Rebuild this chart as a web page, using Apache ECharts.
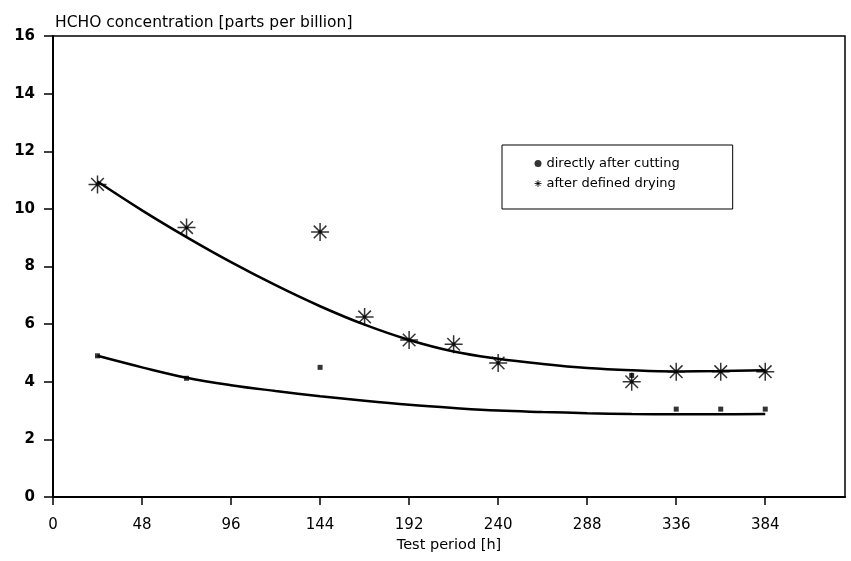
<!DOCTYPE html>
<html>
<head>
<meta charset="utf-8">
<script src="https://cdn.jsdelivr.net/npm/echarts@6/dist/echarts.min.js"></script>
<style>
  html, body { margin: 0; padding: 0; background: #fff; }
  #chart { width: 851px; height: 561px; }
</style>
</head>
<body>
<div id="chart"></div>
<script>
var cutX = [24, 72, 144, 312, 336, 360, 384];
var cutY = [4.9, 4.12, 4.5, 4.22, 3.05, 3.05, 3.05];
var dryX = [24, 72, 144, 168, 192, 216, 240, 312, 336, 360, 384];
var dryY = [10.85, 9.35, 9.2, 6.25, 5.45, 5.3, 4.65, 4.0, 4.35, 4.35, 4.35];

// fitted curves
var fitX = [24, 48, 72, 96, 120, 144, 168, 192, 216, 240, 264, 288, 312, 336, 360, 384];
var fitCutY = [4.9, 4.5, 4.14, 3.88, 3.68, 3.5, 3.34, 3.2, 3.09, 3.0, 2.95, 2.91, 2.88, 2.87, 2.87, 2.88];
var fitDryY = [10.95, 9.95, 9.02, 8.15, 7.35, 6.62, 5.98, 5.45, 5.05, 4.8, 4.62, 4.48, 4.4, 4.36, 4.37, 4.4];

var xTicks = [0, 48, 96, 144, 192, 240, 288, 336, 384];

function pairs(xs, ys) {
  var out = [];
  for (var i = 0; i < xs.length; i++) out.push([xs[i], ys[i]]);
  return out;
}

var starPath = 'path://M0 -10 L0 10 M-10 0 L10 0 M-7 -7 L7 7 M-7 7 L7 -7 M-1.6 -1.6 L1.6 -1.6 L1.6 1.6 L-1.6 1.6 Z';
var font = 'DejaVu Sans, Liberation Sans, sans-serif';

var chart = echarts.init(document.getElementById('chart'));
var option = {
  animation: false,
  backgroundColor: '#fff',
  textStyle: { fontFamily: font, color: '#000' },
  title: {
    text: 'HCHO concentration [parts per billion]',
    left: 50,
    top: 10,
    textStyle: { fontSize: 15.5, fontWeight: 'normal', color: '#000', fontFamily: font }
  },
  legend: {
    orient: 'vertical',
    left: 502,
    top: 145,
    padding: [12, 53, 19, 32],
    itemGap: 7,
    itemWidth: 7,
    itemHeight: 7,
    borderColor: '#000',
    borderWidth: 1,
    textStyle: { fontSize: 13, color: '#000', fontFamily: font },
    data: [
      { name: 'directly after cutting', icon: 'circle' },
      { name: 'after defined drying', icon: starPath,
        itemStyle: { color: '#000', borderColor: '#000', borderWidth: 1 } }
    ]
  },
  grid: {
    left: 53, right: 6, top: 36, bottom: 64,
    show: true, borderColor: '#000', borderWidth: 1.5
  },
  xAxis: {
    type: 'value',
    min: 0,
    max: 427,
    name: 'Test period [h]',
    nameLocation: 'middle',
    nameGap: 38,
    nameTextStyle: { fontSize: 14.5, color: '#000', fontFamily: font },
    axisLine: { lineStyle: { color: '#000', width: 2 } },
    axisTick: { customValues: xTicks, length: 8, lineStyle: { color: '#000', width: 1.5 } },
    axisLabel: {
      customValues: xTicks,
      margin: 21,
      fontSize: 15,
      color: '#000',
      fontFamily: font
    },
    splitLine: { show: false }
  },
  yAxis: {
    type: 'value',
    min: 0,
    max: 16,
    interval: 2,
    axisLine: { lineStyle: { color: '#000', width: 2 } },
    axisTick: { length: 9, lineStyle: { color: '#000', width: 1.5 } },
    axisLabel: { margin: 18, fontSize: 15, fontWeight: 'bold', color: '#000', fontFamily: font },
    splitLine: { show: false }
  },
  series: [
    {
      name: 'directly after cutting',
      type: 'scatter',
      symbol: 'rect',
      symbolSize: 5,
      itemStyle: { color: '#000' },
      data: pairs(cutX, cutY),
      z: 5
    },
    {
      name: 'after defined drying',
      type: 'scatter',
      symbol: starPath,
      symbolSize: 18,
      itemStyle: { color: '#000', borderColor: '#000', borderWidth: 1.5 },
      data: pairs(dryX, dryY),
      z: 5
    },
    {
      name: 'fit cutting',
      type: 'line',
      smooth: 0.4,
      showSymbol: false,
      lineStyle: { color: '#000', width: 2.5 },
      data: pairs(fitX, fitCutY)
    },
    {
      name: 'fit drying',
      type: 'line',
      smooth: 0.4,
      showSymbol: false,
      lineStyle: { color: '#000', width: 2.5 },
      data: pairs(fitX, fitDryY)
    }
  ]
};
chart.setOption(option);
</script>
</body>
</html>
